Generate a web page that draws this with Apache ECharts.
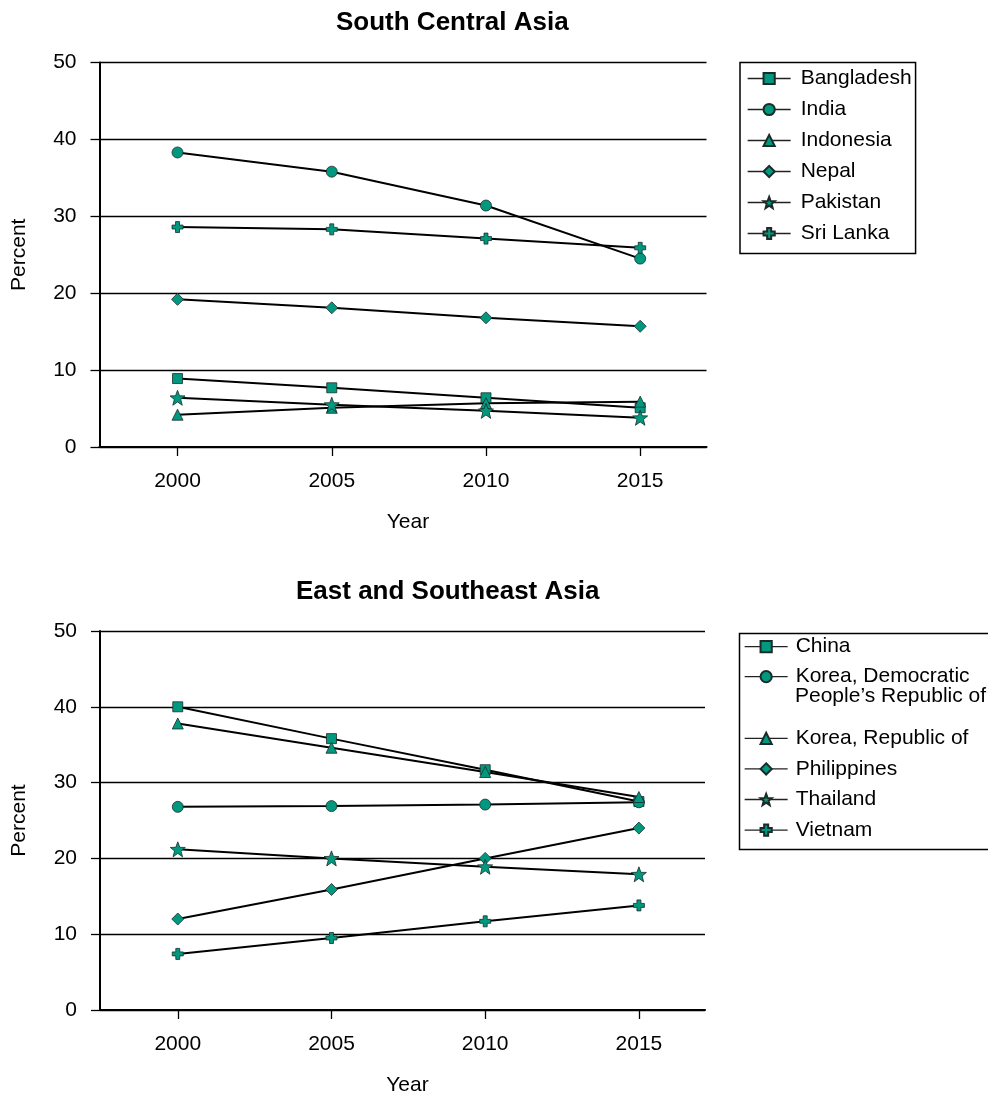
<!DOCTYPE html>
<html>
<head>
<meta charset="utf-8">
<title>South Central Asia / East and Southeast Asia</title>
<script src="https://cdn.jsdelivr.net/npm/echarts@6/dist/echarts.min.js"></script>
<style>
  html, body { margin: 0; padding: 0; background: #fff; }
  #chart { width: 988px; height: 1097px; }
</style>
</head>
<body>
<div id="chart"></div>
<script>
// ---- data ----
const years = [2000, 2005, 2010, 2015];

const southCentralNames = ['Bangladesh', 'India', 'Indonesia', 'Nepal', 'Pakistan', 'Sri Lanka'];
const bangladesh = [8.9, 7.7, 6.4, 5.1];
const india      = [38.3, 35.8, 31.4, 24.5];
const indonesia  = [4.2, 5.1, 5.7, 5.9];
const nepal      = [19.2, 18.1, 16.8, 15.7];
const pakistan   = [6.4, 5.5, 4.7, 3.8];
const sriLanka   = [28.6, 28.3, 27.1, 25.9];

const eastNames = ['China', 'Korea, Democratic People’s Republic of', 'Korea, Republic of',
                   'Philippines', 'Thailand', 'Vietnam'];
const china       = [40.0, 35.8, 31.7, 27.5];
const koreaDPR    = [26.8, 26.9, 27.1, 27.4];
const koreaRep    = [37.8, 34.6, 31.4, 28.1];
const philippines = [12.0, 15.9, 20.0, 24.0];
const thailand    = [21.2, 20.0, 18.9, 17.9];
const vietnam     = [7.4, 9.5, 11.7, 13.8];

// ---- styling ----
const FONT = '"Liberation Sans", Arial, Helvetica, sans-serif';
const TEAL = '#00997f';
const STAR = 'path://M50,0L63,34L99,35L71,57L81,93L50,72L19,93L29,57L1,35L37,34Z';
const PLUS = 'path://M3.2,0H6.8V3.2H10V6.8H6.8V10H3.2V6.8H0V3.2H3.2Z';
const markerShapes = ['rect', 'circle', 'triangle', 'diamond', STAR, PLUS];
const markerSizes  = [10, 11, 11, 12, 15, 11];

function makeSeries(names, values, axisIndex) {
  return names.map((name, i) => ({
    name: name,
    type: 'line',
    xAxisIndex: axisIndex,
    yAxisIndex: axisIndex,
    data: years.map((y, j) => [y, values[i][j]]),
    symbol: markerShapes[i],
    symbolSize: markerSizes[i],
    showAllSymbol: true,
    lineStyle: { color: '#000', width: 2 },
    itemStyle: { color: TEAL, borderColor: '#1c2b28', borderWidth: 0.8 },
    emphasis: { disabled: true },
    animation: false
  }));
}

function xAxisFor(gridIndex) {
  return {
    gridIndex: gridIndex,
    type: 'value',
    min: 1997.47,
    max: 2017.15,
    name: 'Year',
    nameLocation: 'middle',
    nameGap: 65,
    nameTextStyle: { fontFamily: FONT, fontSize: 21, color: '#000', padding: [0, 0, 0, 10] },
    axisLine: { show: true, lineStyle: { color: '#000', width: 2.2 } },
    axisTick: { show: true, customValues: years, length: 9, lineStyle: { color: '#000', width: 1.3 } },
    axisLabel: { customValues: years, margin: 24, fontFamily: FONT, fontSize: 21, color: '#000',
                 formatter: v => String(v) },
    splitLine: { show: false }
  };
}

function yAxisFor(gridIndex) {
  return {
    gridIndex: gridIndex,
    type: 'value',
    min: 0,
    max: 50,
    interval: 10,
    name: 'Percent',
    nameLocation: 'middle',
    nameRotate: 90,
    nameGap: 70,
    nameTextStyle: { fontFamily: FONT, fontSize: 21, color: '#000' },
    axisLine: { show: true, lineStyle: { color: '#000', width: 2 } },
    axisTick: { show: true, length: 9, lineStyle: { color: '#000', width: 1.3 } },
    axisLabel: { margin: 23, fontFamily: FONT, fontSize: 21, color: '#000' },
    splitLine: { show: true, lineStyle: { color: '#000', width: 1.3 } }
  };
}

const legendText = { fontFamily: FONT, fontSize: 21, lineHeight: 22, color: '#000' };

const chart = echarts.init(document.getElementById('chart'), null, { renderer: 'canvas' });

chart.setOption({
  animation: false,
  backgroundColor: '#fff',
  title: [
    { text: 'South Central Asia', left: 336, top: 10, padding: 0,
      textStyle: { fontFamily: FONT, fontSize: 26, fontWeight: 'bold', color: '#000' } },
    { text: 'East and Southeast Asia', left: 296, top: 578.5, padding: 0,
      textStyle: { fontFamily: FONT, fontSize: 26, fontWeight: 'bold', color: '#000' } }
  ],
  grid: [
    { left: 99.5, top: 62.5, width: 607, height: 384.5 },
    { left: 100, top: 631, width: 605, height: 383.5 }
  ],
  xAxis: [xAxisFor(0), xAxisFor(1)],
  yAxis: [yAxisFor(0), yAxisFor(1)],
  legend: [
    {
      data: southCentralNames,
      orient: 'vertical', left: 740, top: 62.5,
      padding: [5, 4, 9, 7],
      borderColor: '#000', borderWidth: 1.5,
      itemWidth: 43, itemHeight: 14, itemGap: 9,
      selectedMode: false,
      lineStyle: { width: 1.3, color: '#222' },
      textStyle: Object.assign({ padding: [0, 0, 0, 5] }, legendText)
    },
    {
      data: eastNames.slice(0, 2),
      orient: 'vertical', left: 744, top: 635.7,
      padding: 0,
      itemWidth: 43, itemHeight: 14, itemGap: 8,
      selectedMode: false,
      lineStyle: { width: 1.3, color: '#222' },
      formatter: name => (name === eastNames[1] ? 'Korea, Democratic' : name),
      textStyle: Object.assign({ padding: [0, 0, 0, 3] }, legendText)
    },
    {
      data: eastNames.slice(2),
      orient: 'vertical', left: 744, top: 727.3,
      padding: 0,
      itemWidth: 43, itemHeight: 14, itemGap: 8.6,
      selectedMode: false,
      lineStyle: { width: 1.3, color: '#222' },
      textStyle: Object.assign({ padding: [0, 0, 0, 3] }, legendText)
    }
  ],
  graphic: [
    { type: 'rect', left: 737, top: 631, silent: true,
      shape: { width: 300, height: 216 },
      style: { fill: 'none', stroke: '#000', lineWidth: 1.5 } },
    { type: 'text', left: 795, top: 686, silent: true,
      style: { text: 'People’s Republic of', font: '21px ' + FONT, fill: '#000' } }
  ],
  series: [
    ...makeSeries(southCentralNames, [bangladesh, india, indonesia, nepal, pakistan, sriLanka], 0),
    ...makeSeries(eastNames, [china, koreaDPR, koreaRep, philippines, thailand, vietnam], 1)
  ]
});
</script>
</body>
</html>
